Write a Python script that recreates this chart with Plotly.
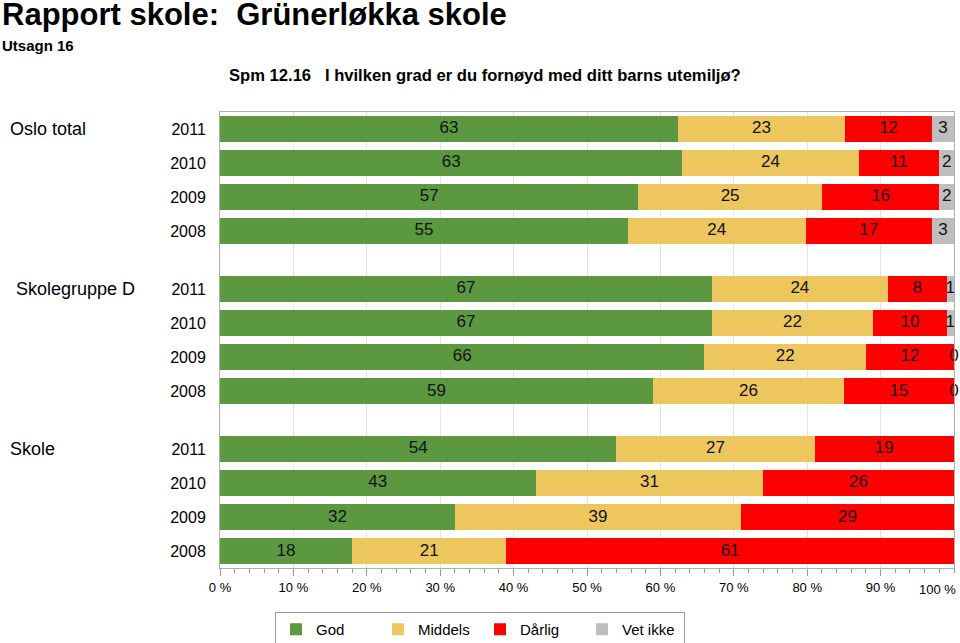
import plotly.graph_objects as go

# ---------------- data ----------------
groups = ["Oslo total", "Skolegruppe D", "Skole"]
years = ["2011", "2010", "2009", "2008"]
series_names = ["God", "Middels", "Dårlig", "Vet ikke"]
god = [63, 63, 57, 55, 67, 67, 66, 59, 54, 43, 32, 18]
middels = [23, 24, 25, 24, 24, 22, 22, 26, 27, 31, 39, 21]
darlig = [12, 11, 16, 17, 8, 10, 12, 15, 19, 26, 29, 61]
vet_ikke = [3, 2, 2, 3, 1, 1, 0, 0, None, None, None, None]
x_ticks = [0, 10, 20, 30, 40, 50, 60, 70, 80, 90, 100]
x_ticktext = [f"{v} %" for v in x_ticks]

# ---------------- styling ----------------
colors = ["#5B983F", "#EDC75E", "#FF0000", "#BEBEBE"]
FONT = "Liberation Sans, Arial, sans-serif"
GROUP_GAP = 0.7
L, R, T, B = 220, 6, 112, 75
W, H = 960, 643
PW, PH = W - L - R, H - T - B

series = [god, middels, darlig, vet_ikke]

# row positions
ypos = []
ticktext = []
for g in range(len(groups)):
    for r in range(len(years)):
        ypos.append(g * (len(years) + GROUP_GAP) + r)
        ticktext.append(years[r])

n = len(god)
totals = [sum(s[i] for s in series if s[i] is not None) for i in range(n)]
pct = [[(s[i] / totals[i] * 100) if s[i] is not None else None for i in range(n)] for s in series]

fig = go.Figure()
for k, name in enumerate(series_names):
    fig.add_trace(go.Bar(
        x=[v if v is not None else 0 for v in pct[k]], y=ypos, orientation="h",
        name=name, marker=dict(color=colors[k], line=dict(width=0)),
        width=0.76, hoverinfo="skip",
    ))

# labels at segment centres
tx, ty, tt = [], [], []
cum = [0.0] * n
for k in range(len(series)):
    for i in range(n):
        if pct[k][i] is None:
            continue
        tx.append(cum[i] + pct[k][i] / 2)
        ty.append(ypos[i])
        tt.append(str(series[k][i]))
        cum[i] += pct[k][i]
fig.add_trace(go.Scatter(
    x=tx, y=ty, text=tt, mode="text", textposition="middle center",
    textfont=dict(family=FONT, size=17, color="#111"), showlegend=False,
    hoverinfo="skip", cliponaxis=False,
))

def px_x(p):
    return (p - L) / PW

def px_y(p):
    return 1 + (T - p) / PH

annotations = [
    dict(text="<b>Rapport skole:\u00a0\u00a0Grünerløkka skole</b>", x=px_x(0), y=px_y(14),
         font=dict(family=FONT, size=31, color="#000"), xanchor="left", yanchor="middle"),
    dict(text="<b>Utsagn 16</b>", x=px_x(0), y=px_y(46),
         font=dict(family=FONT, size=15, color="#000"), xanchor="left", yanchor="middle"),
    dict(text="<b>Spm 12.16\u00a0\u00a0\u00a0I hvilken grad er du fornøyd med ditt barns utemiljø?</b>",
         x=px_x(227), y=px_y(76),
         font=dict(family=FONT, size=16.6, color="#000"), xanchor="left", yanchor="middle"),
]
for a in annotations:
    a.update(xref="paper", yref="paper", showarrow=False)

group_x = [8, 14, 8]
for g, name in enumerate(groups):
    annotations.append(dict(
        text=name, xref="paper", yref="y", x=px_x(group_x[g]), y=ypos[g * len(years)],
        xanchor="left", yanchor="middle", showarrow=False,
        font=dict(family=FONT, size=18, color="#000"),
    ))

# last x tick label, kept inside the page (right-aligned at the tick)
annotations.append(dict(
    text=x_ticktext[-1], xref="x", yref="paper", x=x_ticks[-1], y=px_y(589),
    xanchor="right", yanchor="middle", xshift=4, showarrow=False,
    font=dict(family=FONT, size=13, color="#000"),
))

fig.update_layout(
    width=W, height=H, barmode="stack",
    margin=dict(l=L, r=R, t=T, b=B, pad=0, autoexpand=False),
    paper_bgcolor="white", plot_bgcolor="white",
    font=dict(family=FONT, size=13, color="#000"),
    annotations=annotations,
    legend=dict(orientation="h", xref="paper", x=px_x(480), xanchor="center",
                yref="container", y=1 - 612 / H, yanchor="top",
                bordercolor="#999", borderwidth=1, font=dict(family=FONT, size=15),
                entrywidth=57, traceorder="normal", itemwidth=30),
    xaxis=dict(range=[0, 100], tickvals=x_ticks[:-1], ticktext=x_ticktext[:-1], showgrid=True,
               gridcolor="#e4e4e4", gridwidth=1, zeroline=False,
               showline=True, linecolor="#b0b0b0", mirror=True,
               ticks="outside", ticklen=7, tickcolor="#999",
               minor=dict(dtick=2, ticks="outside", ticklen=4, tickcolor="#999", showgrid=False),
               tickfont=dict(family=FONT, size=13), fixedrange=True),
    yaxis=dict(range=[ypos[-1] + 0.49, -0.5], tickvals=ypos, ticktext=ticktext,
               showgrid=False, zeroline=False, showline=True, linecolor="#b0b0b0", mirror=True,
               ticks="", ticklabelstandoff=10, tickfont=dict(family=FONT, size=16), fixedrange=True),
)

fig.write_html("out.html", config={"displayModeBar": False},
               post_script="document.body.style.margin='0px';")
